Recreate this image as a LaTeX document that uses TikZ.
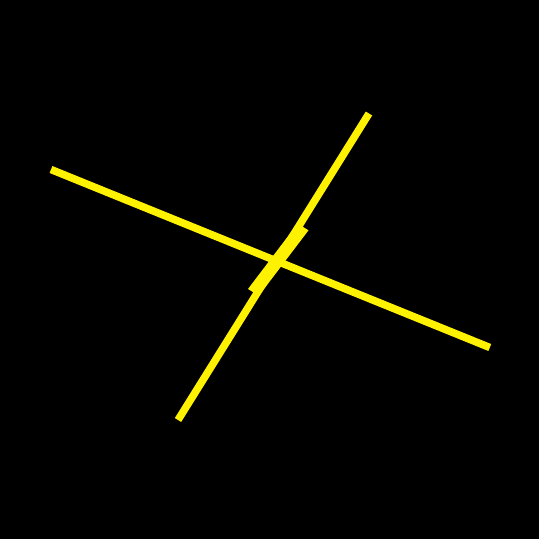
\documentclass[tikz,border=0pt]{standalone}
\begin{document}
\begin{tikzpicture}[x=1pt,y=-1pt,
  ray/.style={draw=yellow,line width=7.5pt,line cap=butt},
  band/.style={fill=yellow,draw=none}]
\fill[black] (0,0) rectangle (539,539);
\useasboundingbox (0,0) rectangle (539,539);
\coordinate (h1) at (51,169.5);
\coordinate (h2) at (489.8,347.5);
\coordinate (v1) at (369,113.5);
\coordinate (v2) at (178,420);
\draw[ray] (h1) -- (h2);
\draw[ray] (v1) -- (v2);
\fill[band] (308.5,230.3) -- (297.6,223.6) -- (248,289) -- (258.9,295.7) -- cycle;
\end{tikzpicture}
\end{document}
